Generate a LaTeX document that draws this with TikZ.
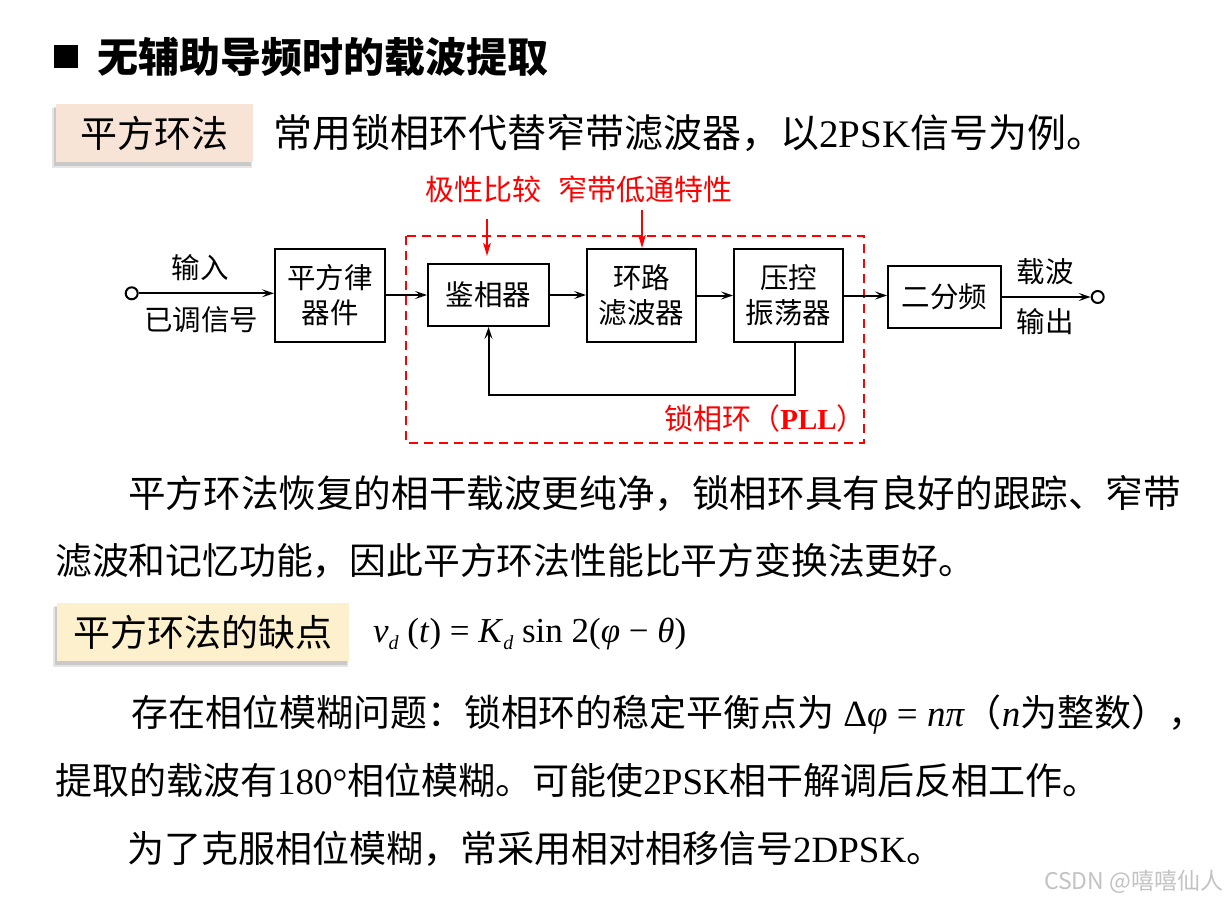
\documentclass[tikz,border=0pt]{standalone}
\usepackage{fontspec}
\setmainfont{Liberation Serif}
\newfontfamily\cjk{Noto Sans CJK SC}
\usetikzlibrary{arrows.meta,calc}
\definecolor{peach}{RGB}{248,228,214}
\definecolor{cream}{RGB}{253,240,204}
\definecolor{wmgray}{RGB}{195,195,195}
\newcommand{\fsz}[2]{\fontsize{#1}{#2}\selectfont}
\newcommand{\subd}{\raisebox{-0.22em}{\fontsize{20}{20}\selectfont\itshape d}}
\begin{document}
\begin{tikzpicture}[x=1pt,y=-1pt,
  txt/.style={inner sep=0pt, anchor=base west},
  blk/.style={draw, line width=2.4pt, inner sep=0pt, align=center, font={\fsz{28.5}{35}\cjk}},
  lbl/.style={inner sep=0pt, font={\fsz{28.5}{35}\cjk}},
  redlbl/.style={inner sep=0pt, text=red, font={\fsz{29}{35}\cjk}},
  conn/.style={line width=2pt, -{Stealth[length=12pt,width=8pt,inset=5pt]}},
  redarr/.style={red, line width=2.2pt, -{Stealth[length=13pt,width=7.5pt,inset=3pt]}},
  port/.style={draw, circle, line width=2pt, minimum size=12pt, inner sep=0pt, fill=white},
  tagbox/.style={inner sep=0pt, minimum height=58pt, font={\fsz{37}{44}\cjk}}
]
\useasboundingbox[fill=white] (0,0) rectangle (1231,904);

% title
\fill (54,45) rectangle (78,68);
\node[txt, font={\fsz{41}{48}\cjk\bfseries}] (title) at (97,73) {无辅助导频时的载波提取};

% tag 1 with shadow
\fill[black, opacity=0.10] (52,108) rectangle (252,168);
\fill[black, opacity=0.12] (53.5,107) rectangle (251,166);
\node[tagbox, fill=peach, minimum width=197pt] (tag1) at (154.5,133) {平方环法};
\node[txt, font=\fsz{39}{44}] (l0) at (273,147.5) {{\cjk 常用锁相环代替窄带滤波器，以}2PSK{\cjk 信号为例。}};

% red labels
\node[redlbl] (lab1) at (483.5,189) {极性比较};
\node[redlbl] (lab2) at (645.5,189) {窄带低通特性};

% PLL dashed frame
\draw[red, line width=2pt, dash pattern=on 9pt off 6pt] (406,236) rectangle (864,443);
\node[anchor=east, inner sep=0pt, text=red, font={\fsz{29}{35}}] (plllbl) at (866,418) {{\cjk 锁相环（}\textbf{PLL}{\cjk ）}};

% blocks
\node[blk, minimum width=109.6pt, minimum height=92.6pt] (sq) at (330,295.5) {平方律\\器件};
\node[blk, minimum width=120.6pt, minimum height=61.6pt] (jx) at (488.5,295) {鉴相器};
\node[blk, minimum width=108.6pt, minimum height=92.6pt] (lf) at (641.5,295.5) {环路\\滤波器};
\node[blk, minimum width=108.6pt, minimum height=92.6pt] (vco) at (788.5,295.5) {压控\\振荡器};
\node[blk, minimum width=112.6pt, minimum height=61.6pt] (div) at (944.5,297) {二分频};

% ports and labels
\node[port] (in) at (131.7,293.3) {};
\node[port] (out) at (1097.7,297) {};
\node[lbl] (lin1) at (200,268) {输入};
\node[lbl] (lin2) at (201,320) {已调信号};
\node[lbl] (lout1) at (1045,272) {载波};
\node[lbl] (lout2) at (1045,322) {输出};

% connectors
\draw[conn] (in.east) -- (in -| sq.west);
\draw[conn] (sq.east |- jx.west) -- (jx.west);
\draw[conn] (jx.east) -- (jx.east -| lf.west);
\draw[conn] (lf.east) -- (vco.west);
\draw[conn] (vco.east) -- (vco.east -| div.west);
\draw[conn] (div.east) -- (out.west);
\coordinate (fb) at (795,395);
\draw[conn] (vco.south -| fb) -- (fb) -| (jx.south);

% red arrows
\coordinate (r1s) at (487,219);
\coordinate (r1e) at (487,256);
\draw[redarr] (r1s) -- (r1e);
\coordinate (r2s) at (642,210);
\draw[redarr] (r2s) -- (lf.north -| r2s);

% paragraphs
\node[txt, font={\fsz{37.6}{44}\cjk}] (p1) at (128,507) {平方环法恢复的相干载波更纯净，锁相环具有良好的跟踪、窄带};
\node[txt, font={\fsz{36.8}{44}\cjk}] (p2) at (55,574) {滤波和记忆功能，因此平方环法性能比平方变换法更好。};

% tag 2 with shadow
\fill[black, opacity=0.10] (53,607) rectangle (348,667);
\fill[black, opacity=0.12] (54.5,606) rectangle (347,665);
\node[tagbox, fill=cream, minimum width=292pt] (tag2) at (203,632) {平方环法的缺点};
\node[txt, font=\fsz{35}{40}] (f1) at (373,642) {\textit{v}\subd{} (\textit{t}) = \textit{K}\subd{} sin 2(\textit{φ} − \textit{θ})};

\node[txt, font=\fsz{37}{44}] (q1) at (131,726) {{\cjk 存在相位模糊问题：锁相环的稳定平衡点为}~Δ\textit{φ} = \textit{nπ}{\cjk （}\textit{n}{\cjk 为整数），}};
\node[txt, font=\fsz{37}{44}] (q2) at (55,794) {{\cjk 提取的载波有}180°{\cjk 相位模糊。可能使}2PSK{\cjk 相干解调后反相工作。}};
\node[txt, font=\fsz{37}{44}] (q3) at (127,862) {{\cjk 为了克服相位模糊，常采用相对相移信号}2DPSK{\cjk 。}};

% watermark
\node[anchor=west, inner sep=0pt, text=wmgray, font={\fsz{23}{26}\cjk}] (wm) at (1044,882) {CSDN @嘻嘻仙人};
\end{tikzpicture}
\end{document}
